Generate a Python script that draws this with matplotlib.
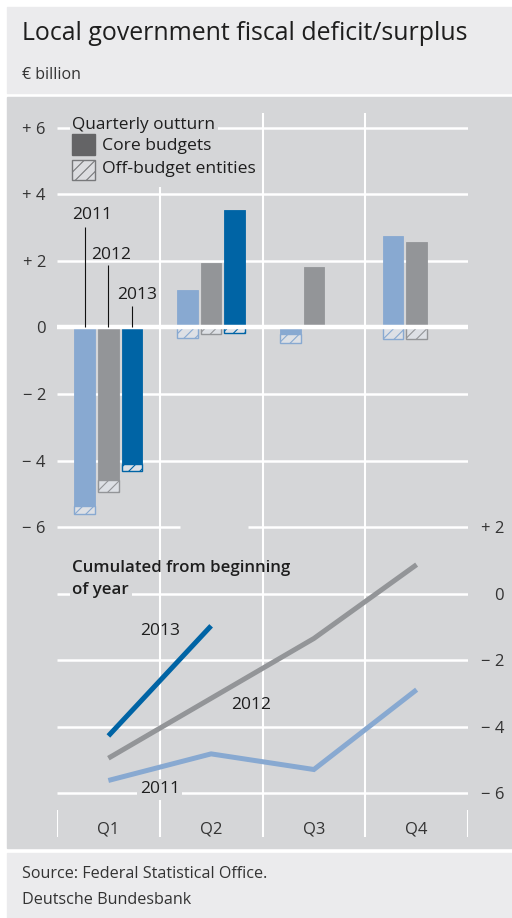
import numpy as np
import matplotlib.pyplot as plt
from matplotlib.patches import Rectangle

plt.rcParams['font.family'] = ['Open Sans', 'DejaVu Sans']
plt.rcParams['hatch.linewidth'] = 0.8

# Data (EUR billion)
quarters = ['Q1', 'Q2', 'Q3', 'Q4']
years = ['2011', '2012', '2013']
colors = ['#88a9d1', '#939598', '#0064a5']

# quarterly outturn: core budgets
core_2011 = [-5.37, 1.13, -0.21, 2.76]
core_2012 = [-4.60, 1.95, 1.83, 2.58]
core_2013 = [-4.09, 3.52]
# quarterly outturn: off-budget entities
off_2011 = [-0.25, -0.33, -0.26, -0.36]
off_2012 = [-0.35, -0.19, 0.0, -0.34]
off_2013 = [-0.21, -0.17]
# cumulated from beginning of year (right scale)
cum_2011 = [-5.62, -4.82, -5.29, -2.89]
cum_2012 = [-4.95, -3.15, -1.35, 0.87]
cum_2013 = [-4.28, -0.97]

left_ticks = [6, 4, 2, 0, -2, -4, -6]
left_labels = ['+ 6', '+ 4', '+ 2', '0', '\u2212 2', '\u2212 4', '\u2212 6']
right_ticks = [2, 0, -2, -4, -6]
right_labels = ['+ 2', '0', '\u2212 2', '\u2212 4', '\u2212 6']

panel = '#d5d6d8'
head = '#ebebed'
txt = '#1e1e1e'
W, H = 512, 918

fig = plt.figure(figsize=(W / 100, H / 100), dpi=100)
fig.patch.set_facecolor('white')


def fbox(x0, y0, x1, y1, color):
    fig.patches.append(Rectangle((x0 / W, 1 - y1 / H), (x1 - x0) / W, (y1 - y0) / H,
                                 transform=fig.transFigure, color=color, zorder=-5))


fbox(7, 7, 512, 93, head)
fbox(7, 97, 512, 848, panel)
fbox(7, 853, 512, 918, head)

fig.text(22 / W, 1 - 34 / H, 'Local government fiscal deficit/surplus', fontsize=17.9,
         color=txt, va='center')
fig.text(22 / W, 1 - 75 / H, '\u20ac billion', fontsize=11.5, color='#333333', va='center')
fig.text(22 / W, 1 - 874 / H, 'Source: Federal Statistical Office.', fontsize=11.6,
         color='#333333', va='center')
fig.text(22 / W, 1 - 900 / H, 'Deutsche Bundesbank', fontsize=11.6, color='#333333', va='center')

ax = fig.add_axes([57 / W, (H - 848) / H, 411 / W, 751 / H])
ax.set_facecolor('none')
ylo, yhi = -15.65, 6.93
ax.set_xlim(-0.5, 3.5)
ax.set_ylim(ylo, yhi)
for s in ax.spines.values():
    s.set_visible(False)

ax.set_yticks(left_ticks, left_labels)
ax.tick_params(axis='y', length=0, pad=8, labelsize=12, labelcolor='#333333')
ax.set_xticks(range(4), quarters)
ax.tick_params(axis='x', length=0, pad=-19, labelsize=12, labelcolor='#333333')

# gridlines
grid_kw = dict(color='white', lw=1.8, zorder=1)
for v in [6, 4, 2, -2, -4, -8, -10, -12, -14]:
    ax.hlines(v, -0.5, 3.5, **grid_kw)
ax.hlines(-6, -0.5, 0.70, **grid_kw)
ax.hlines(-6, 1.36, 3.5, **grid_kw)
ax.vlines(0.5, -15.32, 4.23, color='white', lw=1.5, zorder=1)
ax.vlines([1.5, 2.5], -15.32, 6.45, color='white', lw=1.5, zorder=1)
ax.vlines([-0.5, 3.5], -15.32, -14.5, color='white', lw=1.5, zorder=1)

# bars
width = 0.2
offsets = [-0.23, 0.0, 0.23]
cores = [core_2011, core_2012, core_2013]
offs = [off_2011, off_2012, off_2013]
for i in range(3):
    x = np.arange(len(cores[i])) + offsets[i]
    core = np.array(cores[i])
    off = np.array(offs[i])
    ax.bar(x, core, width, color=colors[i], edgecolor=colors[i], lw=0.6, zorder=2)
    ax.bar(x, off, width, bottom=np.minimum(core, 0), facecolor='#dde0e5',
           edgecolor=colors[i], hatch='///', lw=1.0, zorder=2)
ax.hlines(0, -0.5, 3.5, color='white', lw=3.2, zorder=3)

# year labels in Q1
for lx, ly, tx in [(-0.156, 3.38, '2011'), (0.03, 2.18, '2012'), (0.28, 0.98, '2013')]:
    ax.text(lx, ly, tx, fontsize=12.5, color=txt, ha='center', va='center', zorder=4)
for xo, ltop in zip(offsets, [3.02, 1.88, 0.66]):
    ax.vlines(xo, 0, ltop, color='#111111', lw=0.8, zorder=4)

# legend
ax.text(-0.35, 6.1, 'Quarterly outturn', fontsize=12.4, color=txt, va='center', zorder=4,
        bbox=dict(boxstyle='square,pad=0.15', fc=panel, ec='none'))
ax.add_patch(Rectangle((-0.35, 5.19), 0.215, 0.63, color='#646466', zorder=4))
ax.add_patch(Rectangle((-0.35, 4.44), 0.215, 0.6, facecolor='#dcdde0', edgecolor='#77787a',
                       hatch='///', lw=1.0, zorder=4))
ax.text(-0.06, 5.45, 'Core budgets', fontsize=12.6, color=txt, va='center', zorder=4)
ax.text(-0.06, 4.78, 'Off-budget entities', fontsize=12.6, color=txt, va='center', zorder=4)

# cumulated lines on right scale
ax2 = ax.twinx()
ax2.set_ylim(ylo + 8, yhi + 8)
for s in ax2.spines.values():
    s.set_visible(False)
ax2.set_yticks(right_ticks, right_labels)
ax2.tick_params(axis='y', length=0, pad=26, labelsize=12, labelcolor='#333333')
for lab in ax2.get_yticklabels():
    lab.set_ha('right')

for vals, c in zip([cum_2011, cum_2012, cum_2013], colors):
    ax2.plot(range(len(vals)), vals, color=c, lw=3.6, solid_capstyle='butt',
             solid_joinstyle='miter', zorder=3)

ax2.text(-0.35, 0.78, 'Cumulated from beginning', fontsize=12.2, color=txt,
         fontweight='semibold', va='center')
ax2.text(-0.35, 0.12, 'of year', fontsize=12.2, color=txt, fontweight='semibold', va='center',
         bbox=dict(boxstyle='square,pad=0.15', fc=panel, ec='none'))
ax2.text(0.506, -1.13, '2013', fontsize=12.5, color=txt, ha='center', va='center')
ax2.text(1.39, -3.35, '2012', fontsize=12.5, color=txt, ha='center', va='center')
ax2.text(0.5, -5.88, '2011', fontsize=12.5, color=txt, ha='center', va='center',
         bbox=dict(boxstyle='square,pad=0.15', fc=panel, ec='none'))

fig.savefig('out.png', dpi=100)
